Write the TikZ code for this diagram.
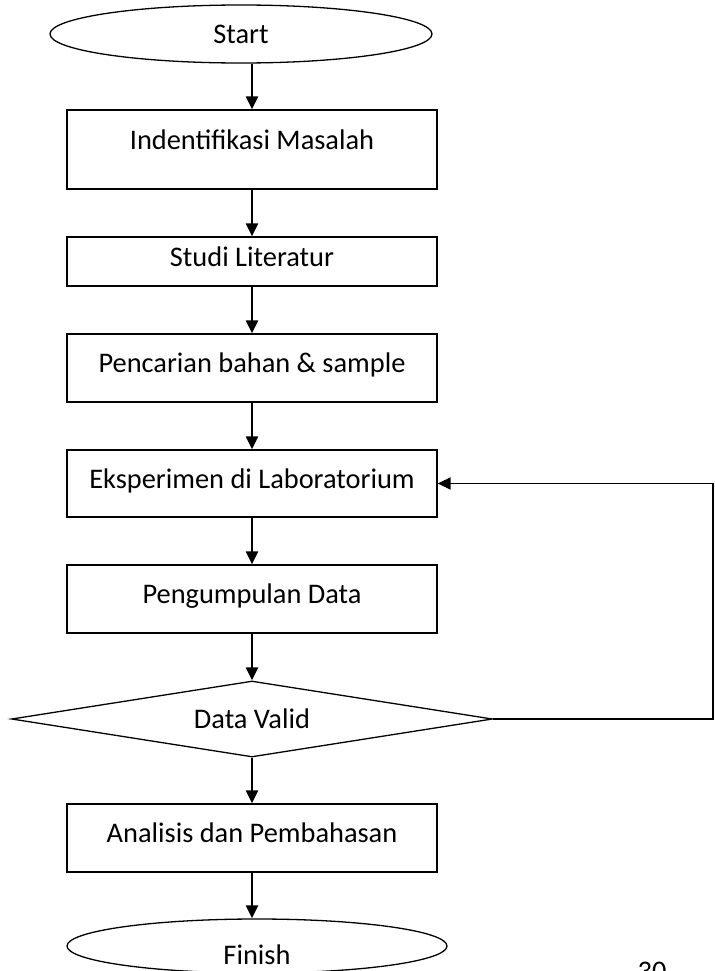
\documentclass[tikz,border=0pt]{standalone}
\usepackage{fontspec}
\newfontfamily\flowfont{Carlito}
\usetikzlibrary{shapes.geometric,arrows.meta}

\begin{document}
\begin{tikzpicture}[x=1bp, y=-1bp, >={Triangle[length=13bp,width=12bp]},
  flowtext/.style={font=\flowfont\fontsize{28.5}{32}\selectfont, text=black},
  procbox/.style={flowtext, draw, line width=1.3bp, minimum width=370bp,
    inner sep=0pt, text height=18bp, text depth=9bp},
  termnode/.style={flowtext, ellipse, draw, line width=1.3bp, inner sep=0pt},
  decision/.style={flowtext, diamond, aspect=6.3, draw, line width=1.3bp, inner sep=0pt,
    minimum width=481bp, minimum height=76bp},
  flow/.style={->, line width=2.2bp}]
  % page frame (pixel grid of the page, y downwards)
  \useasboundingbox (0,0) rectangle (715,971);
  \clip (0,0) rectangle (715,971);

  % 1. Terminals, steps and the check
  \node[termnode, minimum width=382bp, minimum height=58bp] (start) at (241,34) {Start};
  \node[procbox, minimum height=79bp, text depth=19bp] (idm) at (252,149.5) {Indentifikasi Masalah};
  \node[procbox, minimum height=49bp] (stl) at (252,261.5) {Studi Literatur};
  \node[procbox, minimum height=68bp] (pbs) at (252,368) {Pencarian bahan \& sample};
  \node[procbox, minimum height=67bp] (eks) at (252,483.5) {Eksperimen di Laboratorium};
  \node[procbox, minimum height=68bp] (pgd) at (252,599) {Pengumpulan Data};
  \node[decision] (dv) at (252,719) {Data Valid};
  \node[procbox, minimum height=68bp] (anp) at (252,838) {Analisis dan Pembahasan};
  \node[termnode, minimum width=380bp, minimum height=54bp,
        text height=36bp, text depth=0bp] (fin) at (257,946) {Finish};

  % 2. Main flow (top to bottom)
  \draw[flow] (start.south -| idm.north) -- (idm.north);
  \foreach \a/\b in {idm/stl, stl/pbs, pbs/eks, eks/pgd, pgd/dv, dv/anp}
    \draw[flow] (\a.south) -- (\b.north);
  \draw[flow] (anp.south) -- (anp.south |- fin.north);

  % 3. Back to the experiment when data is not valid
  \coordinate (back) at (713,719);
  \draw[->, line width=1.6bp] (dv.east) -- (back) |- (eks.east);

  % 4. Page number (cut by the page edge)
  \node[flowtext, anchor=base] (pgno) at (652,980) {30};
\end{tikzpicture}
\end{document}
